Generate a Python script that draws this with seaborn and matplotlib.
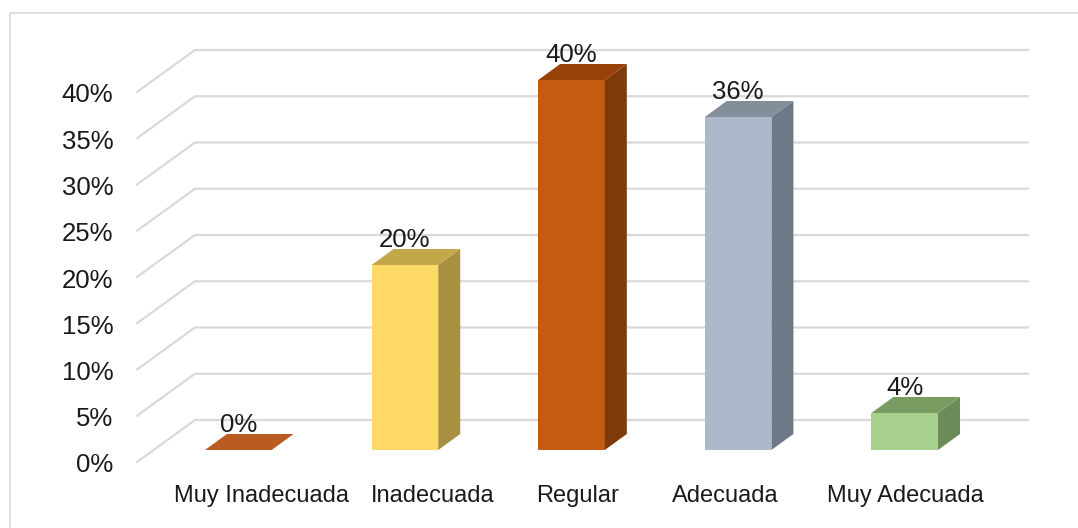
import matplotlib
matplotlib.use("Agg")
import matplotlib.pyplot as plt
from matplotlib.patches import Polygon, Rectangle
from matplotlib.transforms import ScaledTranslation, IdentityTransform
from matplotlib.lines import Line2D
import seaborn as sns
import pandas as pd
import numpy as np

categories = ["Muy Inadecuada", "Inadecuada", "Regular", "Adecuada", "Muy Adecuada"]
values = [0, 20, 40, 36, 4]
value_labels = ["0%", "20%", "40%", "36%", "4%"]
ytick_values = [0, 5, 10, 15, 20, 25, 30, 35, 40]
ytick_labels = ["0%", "5%", "10%", "15%", "20%", "25%", "30%", "35%", "40%"]

front_colors = ["#B85C22", "#FED966", "#C55A11", "#ADB9CA", "#A9D18E"]
side_colors = ["#7F3A0B", "#A89040", "#7F3A0B", "#6E7886", "#6D8B58"]
top_colors = ["#B85C22", "#C2A84A", "#974209", "#848E9B", "#7A9B62"]
label_shift_px = [23, 28, 6, -13, 1]

sns.set_style("white")
plt.rcParams["font.family"] = ["Liberation Sans", "DejaVu Sans"]

W, H = 1078, 528
dpi = 100
fig = plt.figure(figsize=(W / dpi, H / dpi), dpi=dpi)

# axes = bar front plane
x0, x1 = 155, 988
y0, ytop = 450, 450 - 9.25 * 45
ax = fig.add_axes([x0 / W, (H - y0) / H, (x1 - x0) / W, (y0 - ytop) / H])
ax.patch.set_visible(False)

# outer border
fig.add_artist(Rectangle((10 / W, -0.05), 1.2, (H - 13) / H + 0.05, transform=fig.transFigure,
                         fill=False, edgecolor="#D9D9D9", linewidth=1.2))

df = pd.DataFrame({"cat": categories, "val": values})
sns.barplot(data=df, x="cat", y="val", hue="cat", palette=front_colors, width=0.40,
            legend=False, ax=ax, saturation=1, edgecolor="none", zorder=3)

ax.set_xlim(-0.5, 4.5)
ax.set_ylim(0, 45)
for s in ax.spines.values():
    s.set_visible(False)
ax.set_xlabel("")
ax.set_ylabel("")
ax.grid(False)

# gridlines: front-left diagonal to back wall, then horizontal
front_off = np.array([-18, -12])
back_off = np.array([40, 30])
for lv in ytick_values:
    pl = ax.transData.transform((-0.5, lv))
    pr = ax.transData.transform((4.5, lv))
    a = pl + front_off
    b = pl + back_off
    c = pr + back_off
    ax.add_line(Line2D([a[0], b[0], c[0]], [a[1], b[1], c[1]], transform=IdentityTransform(),
                       color="#D9D9D9", linewidth=1.6, zorder=0, clip_on=False))

# 3D faces of bars
depth = np.array([22, 16])
w = 0.40
for i, v in enumerate(values):
    bl = ax.transData.transform((i - w / 2, 0))
    br = ax.transData.transform((i + w / 2, 0))
    tl = ax.transData.transform((i - w / 2, v))
    tr = ax.transData.transform((i + w / 2, v))
    side = [br, tr, tr + depth, br + depth]
    top = [tl, tr, tr + depth, tl + depth]
    if v > 0:
        ax.add_patch(Polygon(side, closed=True, transform=IdentityTransform(),
                             facecolor=side_colors[i], edgecolor="none", zorder=4, clip_on=False))
    ax.add_patch(Polygon(top, closed=True, transform=IdentityTransform(),
                         facecolor=top_colors[i], edgecolor="none", zorder=4, clip_on=False))
    ax.annotate(value_labels[i], xy=(i, v), xytext=(0, 18 * 0.72), textcoords="offset points",
                ha="center", va="baseline", fontsize=18.5, color="#1a1a1a", zorder=6,
                annotation_clip=False)

ax.set_yticks(ytick_values)
ax.set_yticklabels(ytick_labels, fontsize=18.5, color="#1a1a1a")
ax.tick_params(axis="y", length=0, pad=30)
for lab in ax.get_yticklabels():
    lab.set_transform(lab.get_transform() + ScaledTranslation(0, -13 / dpi, fig.dpi_scale_trans))

ax.set_xticks(range(len(categories)))
ax.set_xticklabels(categories, fontsize=17, color="#1a1a1a")
ax.tick_params(axis="x", length=0, pad=25)
for lab, sh in zip(ax.get_xticklabels(), label_shift_px):
    lab.set_transform(lab.get_transform() + ScaledTranslation(sh / dpi, 0, fig.dpi_scale_trans))

fig.savefig("out.png", dpi=dpi)
